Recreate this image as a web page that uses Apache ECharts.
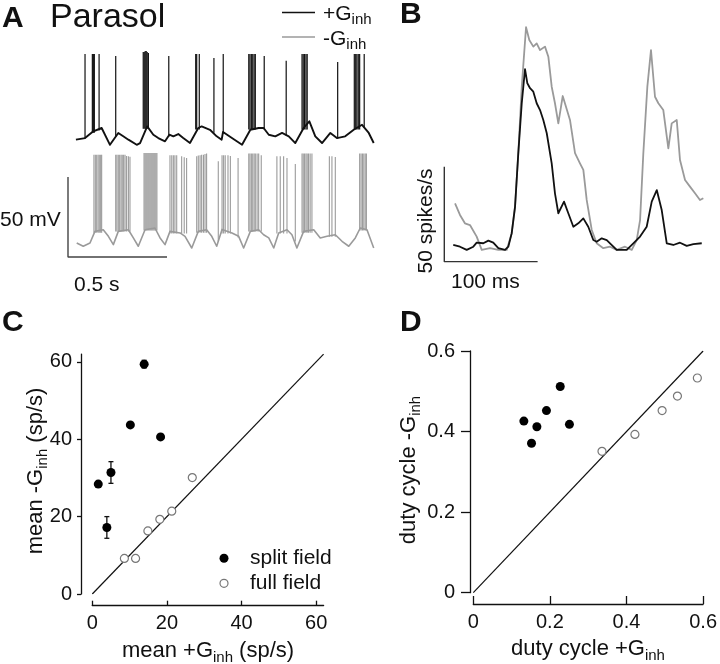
<!DOCTYPE html>
<html><head><meta charset="utf-8">
<script src="https://cdn.jsdelivr.net/npm/echarts@6/dist/echarts.min.js"></script>
<style>html,body{margin:0;padding:0;background:#fff}#c{width:720px;height:664px}</style>
</head><body><div id="c"></div><script>
const F = "'Liberation Sans', Arial, Helvetica, sans-serif";

// ---------- Panel A: membrane potential traces (time ms, potential mV relative) ----------
const aBlackBase = [[40,2.1],[86,3.1],[128,7.3],[170,9.4],[212,-1.1],[254,6.3],[279,4.2],[305,2.1],[347,-1.1],[364,0],[400,10.4],[431,5.2],[456,3.1],[490,1.1],[512,5.2],[532,4.2],[557,5.6],[582,3.1],[616,0],[658,9.4],[675,10.4],[717,8.3],[751,4.2],[776,2.1],[783,6.9],[828,3.1],[879,-1.1],[921,8.3],[963,9.4],[988,9.4],[1014,5.2],[1047,4.2],[1081,6.3],[1115,4.2],[1148,0],[1190,9.4],[1219,13.6],[1249,4.2],[1283,0],[1325,6.3],[1358,3.1],[1400,4.2],[1443,8.3],[1485,11.4],[1519,6.3],[1544,0]];
// spikes: [time, base, peak]
const aBlackSpikes = [[86,3.8,55.6],[123,7.5,55.6],[128,7.5,55.6],[133,7.5,55.6],[157,8.8,55.6],[241,5,54.4],
[380,10,56.9],[385,10,56.9],[390,10,57.5],[395,10,57.5],[400,10,56.9],[406,10,56.3],[509,5,54.4],
[645,9.4,55.6],[650,9.4,55.6],[663,9.4,55.6],[737,7.5,53.1],[784,7.5,55.6],
[913,9.4,55.6],[919,9.4,55.6],[926,9.4,55.6],[933,9.4,55.6],[940,9.4,55.6],[946,9.4,55.6],[991,9.4,54.4],
[1102,5.6,51.4],[1182,9.4,55.6],[1188,9.4,55.6],[1195,9.4,55.6],[1202,9.4,55.6],[1208,9.4,55.6],
[1362,3.8,50.6],[1446,9.4,55.6],[1453,9.4,55.6],[1459,9.4,55.6],[1466,9.4,55.6],[1473,9.4,55.6],[1496,10.6,55.6]];
const aGrayBase = [[44,3.1],[77,1.1],[111,3.1],[136,10.4],[178,11.4],[204,7.3],[229,2.1],[254,10.4],[305,11.4],[330,6.3],[355,1.1],[389,11.4],[439,12.5],[465,6.3],[490,2.1],[515,10.4],[566,9.4],[591,7.3],[625,0],[658,10.4],[700,11.4],[726,7.3],[751,1.1],[778,11.6],[828,9.4],[862,7.3],[887,0],[921,10.4],[963,11.4],[988,8.3],[1014,6.3],[1039,0],[1064,9.4],[1106,11.4],[1131,8.3],[1156,0],[1190,10.4],[1241,11.4],[1274,6.3],[1308,7.3],[1350,8.3],[1384,4.2],[1418,1.1],[1451,6.3],[1476,12.5],[1510,11.4],[1544,0]];
const aGraySpikes = [[131,10.6,58.3],[138,10.6,58.3],[145,10.6,58.3],[152,10.6,58.3],[158,10.6,58.3],[165,10.6,58.3],[170,10.6,58.3],
[241,11.3,58.3],[247,11.3,58.3],[254,11.3,58.3],[261,11.3,58.3],[268,11.3,58.3],[274,11.3,58.3],[281,11.3,58.3],[288,11.3,58.3],[296,11.3,57.5],[305,11.3,57.3],[313,11.3,57],
[384,11.9,59.4],[389,11.9,59.4],[394,11.9,59.4],[399,11.9,59.4],[404,11.9,59.4],[409,11.9,59.4],[414,11.9,59.4],[419,11.9,59.4],[424,11.9,59.4],[429,11.9,59.4],[434,11.9,59.4],[439,11.9,59.4],[444,11.9,59.4],[449,11.9,59.4],
[515,10,58],[524,10,58],[532,10,58],[540,10,58],[549,10,58],[574,10,57.3],[587,10,56.7],[599,10,56.3],
[650,10.6,57.3],[658,10.6,57.8],[667,10.6,58],[675,10.6,58.3],[684,10.6,58.3],[692,10.6,58.7],[700,10.6,59],
[759,5,54.2],[778,10,58],[786,10,58],[794,10,58],[808,10,58],[820,10,57.5],[859,7.5,56.3],
[913,11.3,59],[919,11.3,59],[926,11.3,59],[933,11.3,59],[940,11.3,59],[946,11.3,59],[955,11.3,59],[963,11.3,59],[976,11.3,58],
[1055,10,57.3],[1072,10,57.3],[1089,10,57.3],[1106,10,56.3],[1148,5,52.5],
[1182,10.6,59],[1188,10.6,59],[1195,10.6,59],[1202,10.6,59],[1208,10.6,59],[1215,10.6,59],[1223,10.6,59],[1232,10.6,59],
[1320,8.1,57.3],[1333,8.1,57.3],[1350,8.1,56.8],
[1473,11.9,59],[1480,11.9,59],[1487,11.9,59],[1494,11.9,59],[1501,11.9,59],[1507,11.9,59]];
const aScaleMs = 500, aScaleMv = 50;

// ---------- Panel B: firing rate (time ms, spikes/s) ----------
const bBlack = [[9.6,8.8],[16.8,7.9],[24,6.2],[31.1,7.9],[34.7,10],[41.8,9.7],[47.2,11.1],[52.5,10],[57.9,7.1],[65.1,6.2],[68.6,7.9],[72.2,14.9],[75.8,28.9],[79.3,57.1],[83,83.4],[86.5,101.3],[89,93.9],[91.9,91.3],[95.4,89.5],[99,83.4],[102.6,79.8],[106.1,74.6],[109.8,67.6],[115.1,51.8],[118.6,36],[122.2,25.5],[128.3,31.6],[132.9,25.5],[138.3,18.4],[143.6,20.2],[149,22.8],[154.3,18.4],[159.7,11.4],[163.3,10.5],[168.7,12.3],[174.1,11.4],[177.6,9.7],[184.8,6.2],[195.5,6.2],[202.6,9.7],[209.8,13.2],[216.9,18.4],[222.3,31.6],[227.7,37.7],[233,27.2],[238.4,9.7],[245.4,8.8],[252.6,10],[259.8,8.3],[266.9,9.3],[275.9,9.7]];
const bGray = [[11.5,30.7],[16.8,24.6],[22.1,20.2],[27.5,19.3],[34.7,13.2],[40.1,6.2],[49,7.1],[57.9,6.2],[66.9,6.2],[72.2,14.9],[75.8,28.9],[79.3,57.1],[83,92.1],[87.6,123.4],[91.1,116.7],[95.4,113.2],[99,114.9],[102.6,111.4],[107.9,113.2],[111.5,107.9],[115.1,92.1],[118.6,83.4],[122.2,72.8],[126.9,87.2],[130.4,81.6],[134.7,74.6],[140.1,57.1],[145.4,51.8],[149,48.3],[152.6,32.5],[158,16.7],[163.3,9.7],[170.4,7.1],[177.6,7.9],[184.8,6.2],[193.7,7.9],[200.9,6.2],[206.2,11.4],[209.8,21.9],[213.3,57.1],[217.6,92.1],[221.5,111.4],[225.8,86.8],[229.4,83.4],[234.7,79.8],[240.1,59.7],[243.7,72.8],[249.1,74.6],[252.6,53.5],[258,43],[263.3,39.5],[268.7,36],[274,32.5],[277.6,33.4]];
const bScaleMs = 100, bScaleRate = 50;

// ---------- Panel C: mean rates (sp/s) ----------
const cSplitX = [1.6, 5.0, 3.9, 10.2, 13.9, 18.3];
const cSplitY = [28.4, 31.4, 17.2, 43.7, 59.4, 40.6];
const cSplitErr = [0.6, 2.8, 2.8, 0.6, 1.0, 0.6];
const cFullX = [8.6, 11.6, 14.9, 18.1, 21.3, 26.8];
const cFullY = [9.2, 9.2, 16.3, 19.3, 21.4, 30.1];
const cTicks = [0, 20, 40, 60];
const cUnity = [0, 62];

// ---------- Panel D: duty cycle ----------
const dSplitX = [0.132, 0.166, 0.152, 0.191, 0.227, 0.251];
const dSplitY = [0.426, 0.412, 0.371, 0.452, 0.512, 0.418];
const dFullX = [0.336, 0.422, 0.493, 0.533, 0.585];
const dFullY = [0.351, 0.393, 0.452, 0.488, 0.533];
const dTicks = [0, 0.2, 0.4, 0.6];
const dUnity = [0, 0.6];

// ---------- build ----------
const A_BLACK_OFF = 73.1, A_GRAY_OFF = 7.5, A_BAR_BASE = 1.9;
const zip = (xs, ys) => xs.map((x,i) => [x, ys[i]]);
const shift = (arr, off) => arr.map(p => [p[0], p[1] + off]);
const INK = '#111', GRAY = '#9a9a9a';

function rich(main, sub){
  return {
    m:{fontSize:main, fontFamily:F, lineHeight:main, verticalAlign:'top', fill:INK},
    s:{fontSize:sub, fontFamily:F, lineHeight:sub, padding:[Math.round(main*0.45),0,0,0], verticalAlign:'top', fill:INK}
  };
}
function hiddenAxis(gi, min, max){ return {gridIndex:gi, type:'value', min:min, max:max, show:false}; }
function dataAxis(gi, min, max, ticks, pos, offset, tickInside, tickLen, margin){
  return {gridIndex:gi, type:'value', min:min, max:max, position:pos, offset:offset,
    splitLine:{show:false},
    axisLine:{show:true, onZero:false, lineStyle:{color:INK, width:1.3}},
    axisTick:{show:true, inside:tickInside, length:tickLen, customValues:ticks, lineStyle:{color:INK, width:1.3}},
    axisLabel:{customValues:ticks, fontSize:20, fontFamily:F, color:INK, margin:margin}};
}
function spikeRender(off, color, width){
  return function(params, api){
    const t = api.value(0);
    const p1 = api.coord([t, api.value(1) + off - 1]);
    const p2 = api.coord([t, api.value(2) + off]);
    return {type:'line', shape:{x1:p1[0],y1:p1[1],x2:p2[0],y2:p2[1]}, style:{stroke:color, lineWidth:width}};
  };
}
function errRender(params, api){
  const x = api.value(0), lo = api.value(1), hi = api.value(2);
  const p1 = api.coord([x, hi]), p2 = api.coord([x, lo]);
  const w = 2.5, st = {stroke:INK, lineWidth:1.3};
  return {type:'group', children:[
    {type:'line', shape:{x1:p1[0],y1:p1[1],x2:p2[0],y2:p2[1]}, style:st},
    {type:'line', shape:{x1:p1[0]-w,y1:p1[1],x2:p1[0]+w,y2:p1[1]}, style:st},
    {type:'line', shape:{x1:p2[0]-w,y1:p2[1],x2:p2[0]+w,y2:p2[1]}, style:st}]};
}

const option = {
  animation:false,
  grid:[
    {left:68, top:50, width:316.8, height:210},
    {left:444.3, top:14.7, width:270.6, height:247},
    {left:92.3, top:354.1, width:231.3, height:239.9},
    {left:473.3, top:351, width:230.7, height:241.7}
  ],
  xAxis:[
    hiddenAxis(0, 0, 1600),
    hiddenAxis(1, 0, 290),
    dataAxis(2, 0, 62, cTicks, 'bottom', 11.7, true, 5, 8),
    dataAxis(3, 0, 0.6, dTicks, 'bottom', 11.3, true, 8, 8)
  ],
  yAxis:[
    hiddenAxis(0, 0, 131.25),
    hiddenAxis(1, 0, 130),
    dataAxis(2, 0, 62, cTicks, 'left', 11.3, false, 4, 9),
    dataAxis(3, 0, 0.6, dTicks, 'left', 3.3, false, 9, 15)
  ],
  series:[
    {type:'line', xAxisIndex:0, yAxisIndex:0, data:shift(aGrayBase, A_GRAY_OFF), showSymbol:false, lineStyle:{color:GRAY, width:1.6, join:'round'}},
    {type:'custom', xAxisIndex:0, yAxisIndex:0, renderItem:spikeRender(A_GRAY_OFF, GRAY, 1.1), data:aGraySpikes},
    {type:'line', xAxisIndex:0, yAxisIndex:0, data:shift(aBlackBase, A_BLACK_OFF), showSymbol:false, lineStyle:{color:INK, width:1.9, join:'round'}},
    {type:'custom', xAxisIndex:0, yAxisIndex:0, renderItem:spikeRender(A_BLACK_OFF, INK, 1.2), data:aBlackSpikes},
    {type:'line', xAxisIndex:0, yAxisIndex:0, data:[[0, A_BAR_BASE + aScaleMv],[0, A_BAR_BASE],[aScaleMs, A_BAR_BASE]], showSymbol:false, lineStyle:{color:'#444', width:1.4}},
    {type:'line', xAxisIndex:1, yAxisIndex:1, data:bGray, showSymbol:false, lineStyle:{color:GRAY, width:1.8, join:'round'}},
    {type:'line', xAxisIndex:1, yAxisIndex:1, data:bBlack, showSymbol:false, lineStyle:{color:INK, width:1.8, join:'round'}},
    {type:'line', xAxisIndex:1, yAxisIndex:1, data:[[0, bScaleRate],[0,0],[bScaleMs,0]], showSymbol:false, lineStyle:{color:'#333', width:1.4}},
    {type:'line', xAxisIndex:2, yAxisIndex:2, data:[[cUnity[0],cUnity[0]],[cUnity[1],cUnity[1]]], showSymbol:false, lineStyle:{color:INK, width:1.2}},
    {type:'custom', xAxisIndex:2, yAxisIndex:2, renderItem:errRender, data:cSplitX.map((x,i)=>[x, cSplitY[i]-cSplitErr[i], cSplitY[i]+cSplitErr[i]]), z:3},
    {type:'scatter', name:'split field', xAxisIndex:2, yAxisIndex:2, data:zip(cSplitX,cSplitY), symbolSize:9, itemStyle:{color:'#000', opacity:1}, z:4},
    {type:'scatter', name:'full field', xAxisIndex:2, yAxisIndex:2, data:zip(cFullX,cFullY), symbolSize:8, itemStyle:{color:'#fff', borderColor:'#777', borderWidth:1.2, opacity:1}, z:4},
    {type:'line', xAxisIndex:3, yAxisIndex:3, data:[[dUnity[0],dUnity[0]],[dUnity[1],dUnity[1]]], showSymbol:false, lineStyle:{color:INK, width:1.2}},
    {type:'scatter', name:'split field', xAxisIndex:3, yAxisIndex:3, data:zip(dSplitX,dSplitY), symbolSize:9, itemStyle:{color:'#000', opacity:1}, z:4},
    {type:'scatter', name:'full field', xAxisIndex:3, yAxisIndex:3, data:zip(dFullX,dFullY), symbolSize:8, itemStyle:{color:'#fff', borderColor:'#777', borderWidth:1.2, opacity:1}, z:4}
  ],
  graphic:[
    {type:'text', x:2, y:19, style:{text:'A', font:'bold 30px '+F, fill:INK, verticalAlign:'middle'}},
    {type:'text', x:50, y:18, style:{text:'Parasol', font:'34px '+F, fill:INK, verticalAlign:'middle'}},
    {type:'line', shape:{x1:282,y1:12.5,x2:315,y2:12.5}, style:{stroke:INK, lineWidth:1.5}},
    {type:'line', shape:{x1:282,y1:37,x2:315,y2:37}, style:{stroke:GRAY, lineWidth:1.5}},
    {type:'text', x:323, y:14, style:{text:'{m|+G}{s|inh}', rich:rich(21,15), verticalAlign:'middle'}},
    {type:'text', x:323, y:39, style:{text:'{m|-G}{s|inh}', rich:rich(21,15), verticalAlign:'middle'}},
    {type:'text', x:0, y:220, style:{text:'50 mV', font:'21px '+F, fill:INK, verticalAlign:'middle'}},
    {type:'text', x:74, y:285, style:{text:'0.5 s', font:'21px '+F, fill:INK, verticalAlign:'middle'}},
    {type:'text', x:400, y:15, style:{text:'B', font:'bold 30px '+F, fill:INK, verticalAlign:'middle'}},
    {type:'text', x:426, y:221, rotation:Math.PI/2, style:{text:'50 spikes/s', font:'21px '+F, fill:INK, align:'center', verticalAlign:'middle'}},
    {type:'text', x:451, y:282, style:{text:'100 ms', font:'21px '+F, fill:INK, verticalAlign:'middle'}},
    {type:'text', x:2, y:323, style:{text:'C', font:'bold 30px '+F, fill:INK, verticalAlign:'middle'}},
    {type:'text', x:400, y:323, style:{text:'D', font:'bold 30px '+F, fill:INK, verticalAlign:'middle'}},
    {type:'text', x:36, y:471, rotation:Math.PI/2, style:{text:'{m|mean -G}{s|inh}{m| (sp/s)}', rich:rich(22,15), align:'center', verticalAlign:'middle'}},
    {type:'text', x:208, y:651, style:{text:'{m|mean +G}{s|inh}{m| (sp/s)}', rich:rich(22,15), align:'center', verticalAlign:'middle'}},
    {type:'text', x:409, y:470, rotation:Math.PI/2, style:{text:'{m|duty cycle -G}{s|inh}', rich:rich(22,15), align:'center', verticalAlign:'middle'}},
    {type:'text', x:588, y:649, style:{text:'{m|duty cycle +G}{s|inh}', rich:rich(22,15), align:'center', verticalAlign:'middle'}},
    {type:'circle', shape:{cx:224, cy:558.3, r:4.5}, style:{fill:'#000'}},
    {type:'circle', shape:{cx:224, cy:583.3, r:4}, style:{fill:'#fff', stroke:'#777', lineWidth:1.2}},
    {type:'text', x:250, y:558.3, style:{text:'split field', font:'21px '+F, fill:INK, verticalAlign:'middle'}},
    {type:'text', x:250, y:583.3, style:{text:'full field', font:'21px '+F, fill:INK, verticalAlign:'middle'}}
  ]
};
const chart = echarts.init(document.getElementById('c'), null, {renderer:'canvas'});
chart.setOption(option);
</script></body></html>
